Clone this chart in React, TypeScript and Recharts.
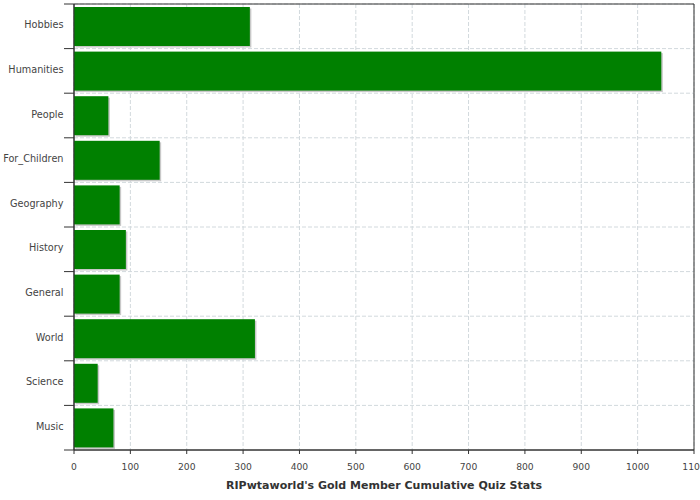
import React from 'react';
import { BarChart, Bar, XAxis, YAxis, CartesianGrid, ReferenceArea } from 'recharts';

const categories = ['Hobbies', 'Humanities', 'People', 'For_Children', 'Geography', 'History', 'General', 'World', 'Science', 'Music'];
const values = [312, 1042, 61, 152, 81, 92, 81, 321, 42, 70];
const xTicks = [0, 100, 200, 300, 400, 500, 600, 700, 800, 900, 1000, 1100];
const xLabel = "RIPwtaworld's Gold Member Cumulative Quiz Stats";

const data = categories.map((c, i) => ({ name: c, value: values[i] }));

const W = 700;
const H = 500;
const M = { top: 4, right: 6, bottom: 0, left: 0 };
const X_AXIS_H = 50;
const Y_AXIS_W = 74;
const PLOT_H = H - M.top - M.bottom - X_AXIS_H;
const BAND = PLOT_H / categories.length;
const FONT = '"DejaVu Sans", sans-serif';

const YTick = (props: any) => {
  const { y, payload, index } = props;
  const axisX = M.left + Y_AXIS_W;
  const half = BAND / 2;
  return (
    <g>
      <line x1={axisX - 10} x2={axisX} y1={y - half} y2={y - half} stroke="#333" strokeWidth={1} />
      {index === categories.length - 1 && (
        <line x1={axisX - 10} x2={axisX} y1={y + half} y2={y + half} stroke="#333" strokeWidth={1} />
      )}
      <text x={axisX - 10.5} y={y} dy={2} textAnchor="end" fontSize={9.7} fill="#444" fontFamily={FONT}>
        {payload.value}
      </text>
    </g>
  );
};

const ShadowBar = (props: any) => {
  const { x, y, width, height } = props;
  if (!width || width <= 0) return null;
  return (
    <g>
      <rect x={x + 1.5} y={y + 1.5} width={width} height={height} fill="#c8c8c8" />
      <rect x={x} y={y} width={width} height={height} fill="#008000" />
    </g>
  );
};

export default function App() {
  return (
    <div style={{ position: 'absolute', left: 0, top: 0, width: W, height: H, background: '#fff' }}>
      <BarChart
        width={W}
        height={H}
        data={data}
        layout="vertical"
        margin={M}
        barCategoryGap={3}
      >
        <CartesianGrid
          stroke="#d2d9dd"
          strokeDasharray="4 2"
          horizontalCoordinatesGenerator={({ offset }: any) =>
            categories.map((_, i) => offset.top + i * (offset.height / categories.length))
          }
        />
        <XAxis
          type="number"
          domain={[0, 1100]}
          ticks={xTicks}
          interval={0}
          height={X_AXIS_H}
          tickSize={4}
          tickMargin={9}
          axisLine={{ stroke: '#333' }}
          tickLine={{ stroke: '#333' }}
          tick={{ fontSize: 9.2, fill: '#444', fontFamily: FONT }}
          label={{
            value: xLabel,
            position: 'insideBottom',
            offset: 11,
            style: { fontSize: 11, fontWeight: 'bold', fill: '#333', fontFamily: FONT },
          }}
        />
        <YAxis
          type="category"
          dataKey="name"
          width={Y_AXIS_W}
          interval={0}
          tickLine={false}
          axisLine={{ stroke: '#333' }}
          tick={<YTick />}
        />
        <ReferenceArea x1={0} x2={1100} fill="none" stroke="#333" strokeWidth={1} ifOverflow="visible" />
        <Bar dataKey="value" isAnimationActive={false} shape={<ShadowBar />} />
      </BarChart>
    </div>
  );
}
